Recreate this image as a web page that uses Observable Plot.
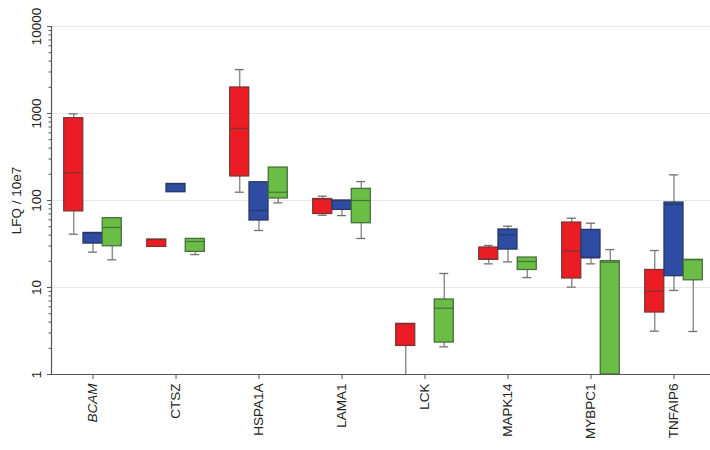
<!DOCTYPE html>
<html>
<head>
<meta charset="utf-8">
<script src="https://cdn.jsdelivr.net/npm/d3@7"></script>
<script src="https://cdn.jsdelivr.net/npm/@observablehq/plot@0.6"></script>
<style>
  html, body { margin: 0; padding: 0; background: #fff; }
  #chart svg { font-family: "Liberation Sans", Arial, sans-serif; }
</style>
</head>
<body>
<div id="chart"></div>
<script>
// Categories (genes) and groups
const categories = ["BCAM", "CTSZ", "HSPA1A", "LAMA1", "LCK", "MAPK14", "MYBPC1", "TNFAIP6"];
const groups = ["red", "blue", "green"];

// Box statistics per group: [whiskerLow, q1, median, q3, whiskerHigh]; null = no box
const redStats = [
  [41, 75, 208, 883, 990],
  [29.3, 29.3, 35.6, 35.6, 35.6],
  [124.5, 189, 672, 1990, 3200],
  [67.7, 70, 104, 104, 112],
  [1, 2.13, 3.82, 3.82, 3.82],
  [18.7, 20.8, 21.3, 28.8, 30.4],
  [10.1, 12.7, 26.3, 55.8, 62.6],
  [3.15, 5.16, 9.06, 15.9, 26.6]
];
const blueStats = [
  [25.5, 32, 42.4, 42.4, 42.4],
  [124.5, 124.5, 155, 155, 155],
  [45.2, 58.9, 76.7, 162, 162],
  [67, 78, 100, 100, 100],
  null,
  [19.7, 27.3, 40.3, 46.4, 50.7],
  [18.7, 21.9, 21.9, 45.9, 54.8],
  [9.24, 13.5, 90, 94.8, 197]
];
const greenStats = [
  [20.8, 29.8, 49, 62.6, 62.6],
  [23.9, 25.7, 33.8, 36.2, 36.2],
  [94, 105.5, 124.5, 239, 239],
  [36.6, 54.8, 100, 136, 165],
  [2.08, 2.33, 5.78, 7.28, 14.5],
  [13.0, 15.9, 19.9, 22.1, 22.1],
  [1, 1, 19.5, 20.1, 27.3],
  [3.12, 12.1, 20.8, 20.8, 20.8]
];

const yTicks = [1, 10, 100, 1000, 10000];
const yTitle = "LFQ / 10e7";

// styling (kept separate from data)
const fills = {red: "#ec1c24", blue: "#2d4ca2", green: "#6cbd45"};
const strokes = {red: "#7e3434", blue: "#2a3766", green: "#46703c"};
const offsets = {red: -0.232, blue: 0, green: 0.232};
const halfBox = 0.1145;
const halfCap = 0.054;

const statsByGroup = {red: redStats, blue: blueStats, green: greenStats};
const rows = [];
for (const g of groups) {
  statsByGroup[g].forEach((s, i) => {
    if (!s) return;
    const [lo, q1, med, q3, hi] = s;
    rows.push({gene: categories[i], group: g, pos: i + offsets[g], lo, q1, med, q3, hi});
  });
}

const minorTicks = [];
for (let d = 1; d < 10000; d *= 10) for (let k = 2; k <= 9; k++) minorTicks.push(d * k);

const plot = Plot.plot({
  width: 710,
  height: 450,
  marginLeft: 51,
  marginRight: -5,
  marginTop: 26,
  marginBottom: 76,
  style: {fontSize: "13.5px", fontFamily: "Liberation Sans, Arial, sans-serif", color: "#222"},
  x: {domain: [-0.5, categories.length - 0.5]},
  y: {type: "log", domain: [1, 10000]},
  marks: [
    Plot.ruleY(yTicks.slice(1), {stroke: "#e8e8e8", strokeWidth: 1}),
    // whiskers
    Plot.ruleX(rows.filter(d => d.hi > d.q3), {x: "pos", y1: "q3", y2: "hi", stroke: "#808080", strokeWidth: 1.3}),
    Plot.ruleX(rows.filter(d => d.lo < d.q1), {x: "pos", y1: "lo", y2: "q1", stroke: "#808080", strokeWidth: 1.3}),
    Plot.ruleY(rows.filter(d => d.hi > d.q3), {y: "hi", x1: d => d.pos - halfCap, x2: d => d.pos + halfCap, stroke: "#707070", strokeWidth: 1.3}),
    Plot.ruleY(rows.filter(d => d.lo < d.q1 && d.lo > 1), {y: "lo", x1: d => d.pos - halfCap, x2: d => d.pos + halfCap, stroke: "#707070", strokeWidth: 1.3}),
    // boxes
    Plot.rect(rows, {
      x1: d => d.pos - halfBox, x2: d => d.pos + halfBox, y1: "q1", y2: "q3",
      fill: d => fills[d.group], stroke: d => strokes[d.group], strokeWidth: 1.3
    }),
    // medians
    Plot.ruleY(rows, {y: "med", x1: d => d.pos - halfBox, x2: d => d.pos + halfBox, stroke: d => strokes[d.group], strokeWidth: 1.2}),
    // axes
    Plot.axisY({ticks: minorTicks, tickSize: 2.5, tickFormat: () => "", stroke: "#555", label: null}),
    Plot.axisY({ticks: yTicks, tickSize: 4, tickPadding: 7, tickRotate: -90, tickFormat: d => String(d), stroke: "#555",
      label: yTitle, labelAnchor: "center", labelArrow: "none", labelOffset: 40.5, fontSize: 13.5}),
    Plot.axisX({ticks: d3.range(categories.length), tickFormat: i => categories[i], tickSize: 5, tickPadding: 4,
      tickRotate: -90, stroke: "#555", label: null, fontSize: 13.5}),
    Plot.ruleX([-0.5], {stroke: "#555", strokeWidth: 1.2}),
    Plot.ruleY([1], {stroke: "#555", strokeWidth: 1.2})
  ]
});

d3.select(plot).selectAll("text").filter(function() { return this.textContent === "BCAM"; }).style("font-style", "italic");
document.getElementById("chart").appendChild(plot);
</script>
</body>
</html>
